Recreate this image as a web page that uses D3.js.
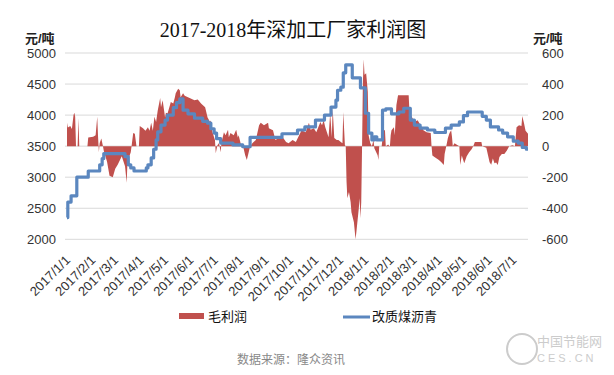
<!DOCTYPE html>
<html>
<head>
<meta charset="utf-8">
<script src="https://cdn.jsdelivr.net/npm/d3@7"></script>
<style>
body { margin: 0; background: #fff; }
text { font-family: "Liberation Sans", "Noto Sans CJK SC", sans-serif; }
</style>
</head>
<body>
<div id="chart"></div>
<script>
var width = 614;
var height = 375;

// 改质煤沥青 price (left axis), step changes
var priceDates = ["2017-01-01","2017-01-02","2017-01-06","2017-01-13","2017-01-27","2017-02-10","2017-02-13","2017-02-15",
    "2017-03-13","2017-03-17","2017-03-20","2017-03-24","2017-04-08","2017-04-10","2017-04-14","2017-04-17","2017-04-20",
    "2017-04-22","2017-04-26","2017-05-01","2017-05-04","2017-05-11","2017-05-15","2017-05-19","2017-05-23","2017-05-29",
    "2017-06-06","2017-06-16","2017-06-22","2017-06-26","2017-06-30","2017-07-03","2017-07-08","2017-07-23","2017-08-04",
    "2017-08-13","2017-09-21","2017-10-10","2017-10-19","2017-11-01","2017-11-12","2017-11-20","2017-11-26","2017-11-28",
    "2017-12-02","2017-12-05","2017-12-08","2017-12-16","2017-12-26","2018-01-01","2018-01-05","2018-01-09","2018-01-12",
    "2018-01-15","2018-01-22","2018-01-26","2018-02-02","2018-02-11","2018-02-17","2018-02-25","2018-03-02","2018-03-09",
    "2018-03-18","2018-03-27","2018-04-09","2018-04-16","2018-04-26","2018-05-01","2018-05-06","2018-05-24","2018-05-29",
    "2018-06-03","2018-06-13","2018-06-18","2018-06-24","2018-07-01","2018-07-07","2018-07-12","2018-07-17","2018-07-19"];
var priceValues = [2350,2600,2700,3000,3100,3200,3300,3380,
    3330,3200,3150,3100,3150,3200,3310,3450,3600,
    3730,3840,3920,4000,4120,4200,4260,4080,4020,
    3950,3900,3870,3780,3710,3620,3550,3520,3490,
    3640,3700,3760,3810,3920,4000,4130,4240,4400,
    4450,4680,4810,4600,4440,4030,3710,3600,3650,
    3600,4080,4100,4020,4050,4110,3920,3840,3790,
    3760,3720,3790,3840,3890,3990,4050,3980,3920,
    3810,3760,3710,3650,3580,3550,3480,3450,3450];

// 毛利润 (right axis)
var profitDates = ["2017-01-01","2017-01-02","2017-01-05","2017-01-07","2017-01-09","2017-01-10","2017-01-11","2017-01-12",
    "2017-01-14","2017-01-15","2017-01-16","2017-01-26","2017-01-27","2017-02-02","2017-02-05","2017-02-07","2017-02-08",
    "2017-02-09","2017-02-10","2017-02-12","2017-02-14","2017-02-15","2017-02-19","2017-02-22","2017-02-26","2017-03-01",
    "2017-03-04","2017-03-09","2017-03-13","2017-03-15","2017-03-16","2017-03-20","2017-03-21","2017-03-23","2017-03-25",
    "2017-03-27","2017-03-30","2017-03-31","2017-04-04","2017-04-07","2017-04-10","2017-04-12","2017-04-14","2017-04-16",
    "2017-04-18","2017-04-20","2017-04-22","2017-04-25","2017-04-26","2017-04-28","2017-05-01","2017-05-02","2017-05-04",
    "2017-05-07","2017-05-08","2017-05-11","2017-05-13","2017-05-14","2017-05-17","2017-05-19","2017-05-20","2017-05-23",
    "2017-05-25","2017-05-29","2017-06-02","2017-06-06","2017-06-10","2017-06-14","2017-06-19","2017-06-22","2017-06-25",
    "2017-06-26","2017-06-28","2017-07-01","2017-07-02","2017-07-04","2017-07-06","2017-07-08","2017-07-09","2017-07-12",
    "2017-07-14","2017-07-17","2017-07-18","2017-07-20","2017-07-24","2017-07-27","2017-07-29","2017-07-30","2017-08-02",
    "2017-08-04","2017-08-05","2017-08-07","2017-08-09","2017-08-11","2017-08-13","2017-08-16","2017-08-20","2017-08-24",
    "2017-08-26","2017-08-30","2017-09-04","2017-09-05","2017-09-10","2017-09-13","2017-09-17","2017-09-22","2017-09-26",
    "2017-09-29","2017-10-04","2017-10-08","2017-10-12","2017-10-15","2017-10-20","2017-10-24","2017-10-26","2017-10-30",
    "2017-11-02","2017-11-07","2017-11-09","2017-11-11","2017-11-13","2017-11-15","2017-11-17","2017-11-19","2017-11-21",
    "2017-11-22","2017-11-24","2017-11-27","2017-11-29","2017-12-02","2017-12-04","2017-12-05","2017-12-07","2017-12-08",
    "2017-12-09","2017-12-10","2017-12-12","2017-12-14","2017-12-15","2017-12-18","2017-12-20","2017-12-21","2017-12-24",
    "2017-12-25","2017-12-26","2017-12-27","2017-12-28","2017-12-29","2017-12-30","2017-12-31","2018-01-02","2018-01-04",
    "2018-01-05","2018-01-07","2018-01-09","2018-01-11","2018-01-12","2018-01-16","2018-01-17","2018-01-18","2018-01-21",
    "2018-01-23","2018-01-25","2018-01-26","2018-01-29","2018-01-31","2018-02-01","2018-02-02","2018-02-05","2018-02-06",
    "2018-02-08","2018-02-10","2018-02-23","2018-02-24","2018-02-27","2018-03-02","2018-03-06","2018-03-11","2018-03-13",
    "2018-03-17","2018-03-22","2018-03-23","2018-03-24","2018-03-27","2018-04-01","2018-04-04","2018-04-07","2018-04-08",
    "2018-04-10","2018-04-12","2018-04-14","2018-04-16","2018-04-17","2018-04-18","2018-04-20","2018-04-24","2018-04-26",
    "2018-04-27","2018-04-29","2018-05-02","2018-05-05","2018-05-08","2018-05-11","2018-05-13","2018-05-15","2018-05-23",
    "2018-05-24","2018-05-29","2018-06-02","2018-06-04","2018-06-06","2018-06-08","2018-06-10","2018-06-12","2018-06-14",
    "2018-06-17","2018-06-20","2018-06-23","2018-06-26","2018-06-30","2018-07-03","2018-07-05","2018-07-08","2018-07-11",
    "2018-07-12","2018-07-14","2018-07-16","2018-07-19"];
var profitValues = [150,120,130,110,200,215,190,0,
    0,180,0,0,55,60,70,190,60,
    -40,20,50,0,-30,-100,-190,-200,-145,
    -120,-65,-130,-235,-100,-40,0,85,80,
    0,0,130,116,100,122,100,150,100,
    190,155,230,310,250,295,185,215,210,
    265,285,275,315,340,370,360,315,340,
    325,315,305,295,300,275,250,185,155,
    165,90,40,-45,6,20,-40,25,90,
    70,105,58,85,70,105,55,70,6,
    -6,-13,-58,-90,-45,0,20,40,135,
    150,135,150,116,103,40,52,58,26,
    19,40,26,70,103,90,150,105,116,
    90,155,135,167,122,90,58,213,58,
    245,52,40,40,26,19,220,6,0,
    -230,-335,-295,-360,-425,-490,-600,-555,-400,
    -335,-465,-360,0,410,560,460,470,350,
    70,20,0,40,-13,-58,-90,0,0,
    103,103,0,10,-6,70,103,122,70,
    265,328,328,220,187,155,167,122,103,
    90,84,0,-60,-71,-90,-103,-122,-50,
    0,52,84,103,60,0,19,6,0,
    -122,-60,-110,-65,-40,-20,0,26,26,
    0,-10,-103,-120,-80,-110,-105,-122,-70,
    -50,-50,-30,0,6,0,122,135,130,
    195,150,100,80];

var priceTicks = [2000, 2500, 3000, 3500, 4000, 4500, 5000];
var profitTicks = [-600, -400, -200, 0, 200, 400, 600];

var parseDate = d3.timeParse("%Y-%m-%d");
var priceData = priceDates.map(function(d, i){ return {date: parseDate(d), value: priceValues[i]}; });
var profitData = profitDates.map(function(d, i){ return {date: parseDate(d), value: profitValues[i]}; });

var svg = d3.select("#chart")
    .append("svg")
    .attr("width", width)
    .attr("height", height);

svg.append("rect")
    .attr("width", width)
    .attr("height", height)
    .style("fill", "#fff");

var x = d3.scaleTime()
    .domain([parseDate("2017-01-01"), parseDate("2018-07-19")])
    .range([67, 528]);

var yLeft = d3.scaleLinear().domain([2000, 5000]).range([239.3, 53]);
var yRight = d3.scaleLinear().domain([-600, 600]).range([239.3, 53]);

// grid
svg.append("g")
    .selectAll("line")
    .data(priceTicks)
    .enter().append("line")
    .attr("x1", 65)
    .attr("x2", 528)
    .attr("y1", function(d){ return yLeft(d); })
    .attr("y2", function(d){ return yLeft(d); })
    .style("stroke", "#d9d9d9")
    .style("stroke-width", 1);

// profit area
var area = d3.area()
    .x(function(d){ return x(d.date); })
    .y0(yRight(0))
    .y1(function(d){ return yRight(d.value); });

svg.append("path")
    .datum(profitData)
    .attr("d", area)
    .style("fill", "#c0504d");

// price line
var line = d3.line()
    .curve(d3.curveStepAfter)
    .x(function(d){ return x(d.date); })
    .y(function(d){ return yLeft(d.value); });

svg.append("path")
    .datum(priceData)
    .attr("d", line)
    .style("fill", "none")
    .style("stroke", "#5b87bf")
    .style("stroke-width", 3.2)
    .style("stroke-linejoin", "round");

var plainNum = function(d){ return String(d); };

// left axis labels
var leftAxis = svg.append("g")
    .attr("transform", "translate(56,0)")
    .call(d3.axisLeft(yLeft).tickValues(priceTicks).tickFormat(plainNum).tickSize(0).tickPadding(0));
leftAxis.select(".domain").remove();
leftAxis.selectAll("text")
    .style("font-size", "13px")
    .style("fill", "#333");

// right axis labels
var rightAxis = svg.append("g")
    .attr("transform", "translate(542,0)")
    .call(d3.axisRight(yRight).tickValues(profitTicks).tickFormat(plainNum).tickSize(0).tickPadding(0));
rightAxis.select(".domain").remove();
rightAxis.selectAll("text")
    .style("font-size", "13px")
    .style("fill", "#333");

// x labels
svg.append("g")
    .selectAll("text")
    .data(x.ticks(d3.timeMonth.every(1)))
    .enter().append("text")
    .attr("transform", function(d){ return "translate(" + (x(d) + 4) + ",261) rotate(-45)"; })
    .attr("text-anchor", "end")
    .style("font-size", "13px")
    .style("fill", "#333")
    .text(d3.timeFormat("%Y/%-m/%-d"));

// title and units
svg.append("text")
    .attr("x", 293)
    .attr("y", 37)
    .attr("text-anchor", "middle")
    .style("font-family", "'Liberation Serif', 'Noto Sans CJK SC', serif")
    .style("font-size", "20px")
    .style("fill", "#111")
    .text("2017-2018年深加工厂家利润图");

svg.append("text")
    .attr("x", 25)
    .attr("y", 43)
    .style("font-size", "13px")
    .style("font-weight", "bold")
    .style("fill", "#222")
    .text("元/吨");

svg.append("text")
    .attr("x", 533)
    .attr("y", 43)
    .style("font-size", "13px")
    .style("font-weight", "bold")
    .style("fill", "#222")
    .text("元/吨");

// legend
svg.append("rect")
    .attr("x", 179)
    .attr("y", 313)
    .attr("width", 25)
    .attr("height", 6)
    .style("fill", "#c0504d");

svg.append("text")
    .attr("x", 208)
    .attr("y", 321)
    .style("font-size", "13px")
    .style("fill", "#111")
    .text("毛利润");

svg.append("line")
    .attr("x1", 343)
    .attr("x2", 370)
    .attr("y1", 317)
    .attr("y2", 317)
    .style("stroke", "#5b87bf")
    .style("stroke-width", 3);

svg.append("text")
    .attr("x", 372)
    .attr("y", 321)
    .style("font-size", "13px")
    .style("fill", "#111")
    .text("改质煤沥青");

// source
svg.append("text")
    .attr("x", 237)
    .attr("y", 364)
    .style("font-size", "12px")
    .style("fill", "#888")
    .text("数据来源：隆众资讯");

// watermark
svg.append("circle")
    .attr("cx", 522)
    .attr("cy", 349)
    .attr("r", 15)
    .style("fill", "none")
    .style("stroke", "#ccc")
    .style("stroke-width", 2);

svg.append("text")
    .attr("x", 537)
    .attr("y", 346)
    .style("font-size", "13px")
    .style("fill", "#ccc")
    .text("中国节能网");

svg.append("text")
    .attr("x", 537)
    .attr("y", 362)
    .style("font-size", "11px")
    .style("letter-spacing", "3px")
    .style("fill", "#ccc")
    .text("CES.CN");
</script>
</body>
</html>
